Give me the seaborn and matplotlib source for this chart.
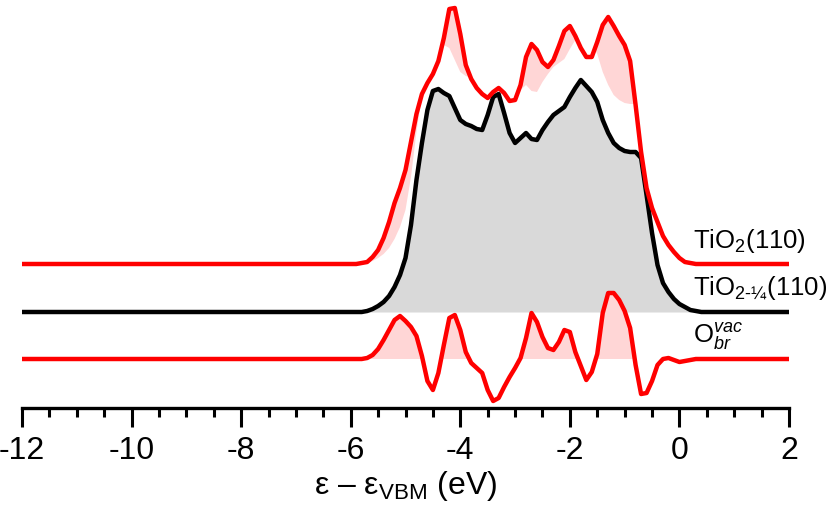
import numpy as np
import seaborn as sns
import matplotlib.pyplot as plt

# energy grid (eV, relative to VBM)
energy = [-12.0,
          -6.0, -5.9, -5.8, -5.7, -5.6, -5.5, -5.4, -5.3, -5.2, -5.1,
          -5.0, -4.9, -4.8, -4.7, -4.6, -4.5, -4.4, -4.3, -4.2, -4.1,
          -4.0, -3.9, -3.8, -3.7, -3.6, -3.5, -3.4, -3.3, -3.2, -3.1,
          -3.0, -2.9, -2.8, -2.7, -2.6, -2.5, -2.4, -2.3, -2.2, -2.1,
          -2.0, -1.9, -1.8, -1.7, -1.6, -1.5, -1.4, -1.3, -1.2, -1.1,
          -1.0, -0.9, -0.8, -0.7, -0.6, -0.5, -0.4, -0.3, -0.2, -0.1,
          0.0, 0.1, 0.2, 0.3, 0.4,
          2.0]

# DOS of TiO2(110) (arb. units)
dos_tio2 = [0.0,
            0.0, 0.0, 0.1, 0.2, 0.7, 1.4, 2.6, 4.2, 6.1, 7.6,
            9.4, 12.2, 15.0, 17.0, 18.1, 19.0, 20.3, 22.6, 25.5, 25.6,
            23.0, 19.9, 18.5, 17.6, 17.0, 16.6, 17.2, 17.6, 17.1, 16.3,
            16.4, 17.9, 20.7, 22.0, 21.4, 20.2, 19.7, 20.4, 21.8, 23.3,
            23.8, 22.8, 21.6, 20.7, 20.7, 22.2, 23.9, 24.7, 23.8, 22.8,
            21.9, 20.3, 15.9, 11.2, 7.6, 5.6, 4.2, 2.8, 1.9, 1.2,
            0.6, 0.2, 0.1, 0.0, 0.0,
            0.0]

# DOS of reduced TiO2-1/4(110)
dos_reduced = [0.0,
               0.0, 0.0, 0.0, 0.1, 0.3, 0.6, 1.0, 1.6, 2.5, 3.7,
               5.4, 8.7, 13.2, 16.9, 20.2, 22.1, 22.3, 21.9, 21.6, 20.4,
               19.2, 18.8, 18.6, 18.3, 18.2, 19.7, 21.5, 21.8, 19.9, 17.9,
               16.9, 17.4, 17.9, 17.3, 17.2, 18.2, 19.0, 19.7, 20.1, 20.5,
               21.5, 22.4, 23.2, 22.6, 22.0, 21.0, 19.2, 17.9, 16.9, 16.4,
               16.1, 16.0, 16.0, 15.4, 11.7, 7.9, 4.7, 2.9, 2.0, 1.3,
               0.8, 0.5, 0.2, 0.1, 0.0,
               0.0]

# difference due to the bridging O vacancy
dos_vac = [0.0,
           0.0, 0.0, 0.0, 0.1, 0.4, 1.0, 1.9, 2.9, 3.9, 4.3,
           3.8, 3.2, 2.3, 0.3, -2.2, -3.1, -1.4, 1.4, 4.1, 4.4,
           2.9, 0.7, -0.4, -0.9, -1.4, -3.1, -4.2, -3.9, -2.8, -1.8,
           -0.9, 0.1, 2.1, 4.6, 3.7, 2.2, 1.1, 0.9, 1.7, 2.9,
           2.7, 0.7, -0.7, -2.1, -1.3, 0.5, 4.6, 6.6, 6.6, 5.9,
           4.8, 3.1, -0.6, -3.5, -3.4, -2.2, -0.6, 0.0, 0.1, -0.1,
           -0.3, -0.2, -0.1, 0.0, 0.0,
           0.0]

labels = ["TiO$_2$(110)", r"TiO$_{2\text{-}¼}$(110)", r"O$_{br}^{vac}$"]
label_y = [11.1, 6.4, 1.6]

RED = "#ff0000"
PINK = "#ffd6d6"
GREY = "#d9d9d9"

sns.set_style("white")
plt.rcParams["font.family"] = ["Liberation Sans", "DejaVu Sans"]
plt.rcParams["mathtext.fontset"] = "custom"
plt.rcParams["mathtext.rm"] = "Liberation Sans"
plt.rcParams["mathtext.it"] = "Liberation Sans:italic"
plt.rcParams["axes.unicode_minus"] = False
plt.rcParams["text.color"] = "black"
plt.rcParams["axes.labelcolor"] = "black"
plt.rcParams["xtick.color"] = "black"

x = np.array(energy)
top = np.array(dos_tio2)
mid = np.array(dos_reduced)
bot = np.array(dos_vac)

off_top, off_mid, off_bot = 9.5, 4.7, 0.0

fig = plt.figure(figsize=(8.3, 5.09), dpi=100)
ax = fig.add_axes([22 / 830, 101 / 509, 767 / 830, 408 / 509])

# fills
ax.fill_between(x, top + off_top, mid + off_top, where=top > mid,
                interpolate=True, color=PINK, lw=0)
ax.fill_between(x, mid + off_mid, off_mid, color=GREY, lw=0)
ax.fill_between(x, bot + off_bot, off_bot, where=bot > 0,
                interpolate=True, color=PINK, lw=0)

# curves
line_kw = dict(lw=3.2, ax=ax, clip_on=False, solid_joinstyle="round",
               solid_capstyle="butt")
sns.lineplot(x=x, y=bot + off_bot, color=RED, **line_kw)
sns.lineplot(x=x, y=mid + off_mid, color="black", **line_kw)
sns.lineplot(x=x, y=top + off_top, color=RED, **line_kw)

# curve labels
for txt, yy in zip(labels, label_y):
    ax.text(0.25, yy, txt, fontsize=18.5, ha="left", va="baseline")

ax.set_xlim(-12, 2)
ax.set_ylim(-4.9, 35.9)
ax.set_yticks([])
ax.set_xticks(range(-12, 3, 2))
ax.set_xticks(np.arange(-12, 2.01, 0.5), minor=True)
ax.tick_params(axis="x", which="both", bottom=True, direction="out",
               width=2.2, color="black")
ax.tick_params(axis="x", which="major", length=13.5, labelsize=23, pad=7)
ax.tick_params(axis="x", which="minor", length=6.5)
for s in ["left", "right", "top"]:
    ax.spines[s].set_visible(False)
ax.spines["bottom"].set_linewidth(2.4)
ax.spines["bottom"].set_color("black")
ax.set_xlabel(r"ε – ε$_{\mathrm{VBM}}$ (eV)", fontsize=23, labelpad=2)

fig.savefig("out.png", dpi=100)
